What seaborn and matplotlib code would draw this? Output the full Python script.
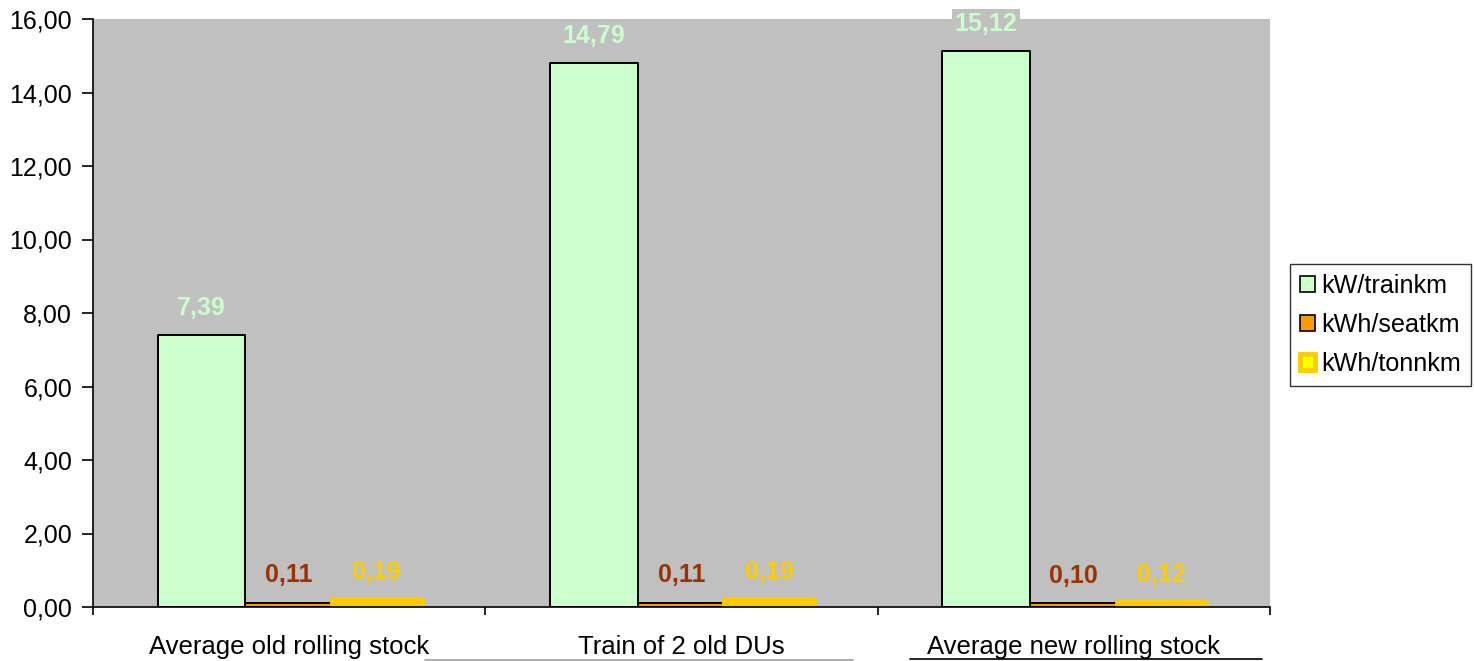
import matplotlib
matplotlib.use("Agg")
import matplotlib.pyplot as plt
from matplotlib.lines import Line2D
from matplotlib.ticker import FixedLocator, FuncFormatter
import seaborn as sns
import pandas as pd

categories = ["Average old rolling stock", "Train of 2 old DUs", "Average new rolling stock"]
series = ["kW/trainkm", "kWh/seatkm", "kWh/tonnkm"]
trainkm = [7.39, 14.79, 15.12]
seatkm = [0.11, 0.11, 0.10]
tonnkm = [0.19, 0.19, 0.12]

fills = ["#CCFFCC", "#FF9900", "#FFFF00"]
edges = ["#000000", "#000000", "#FFCC00"]
edge_widths = [1.4, 1.4, 5.0]
label_colors = ["#CCFFCC", "#993300", "#FFCC00"]

df = pd.DataFrame({
    "category": categories * 3,
    "series": [s for s in series for _ in categories],
    "value": trainkm + seatkm + tonnkm,
})

sns.set_theme(style="white")
plt.rcParams["font.family"] = ["Liberation Sans", "DejaVu Sans"]
plt.rcParams["text.color"] = "black"

fig = plt.figure(figsize=(14.74, 6.61), dpi=100)
ax = fig.add_axes([93 / 1474, 1 - 607 / 661, (1270 - 93) / 1474, (607 - 19) / 661])
ax.set_facecolor("#C0C0C0")

sns.barplot(data=df, x="category", y="value", hue="series", order=categories,
            hue_order=series, palette=fills, width=0.67, gap=0, ax=ax,
            errorbar=None, legend=False)

for cont, fc, ec, lw, lc in zip(ax.containers, fills, edges, edge_widths, label_colors):
    for bar in cont:
        bar.set_facecolor(fc)
        bar.set_edgecolor(ec)
        bar.set_linewidth(lw)
        bar.set_joinstyle("round")
        h = bar.get_height()
        ax.annotate(f"{h:.2f}".replace(".", ","),
                    (bar.get_x() + bar.get_width() / 2, h),
                    xytext=(0, 20), textcoords="offset points",
                    ha="center", va="center", fontsize=18, fontweight="bold",
                    color=lc, annotation_clip=False,
                    bbox=dict(boxstyle="square,pad=0.1", fc="#C0C0C0", ec="none"))

ax.set_xlim(-0.5, 2.5)
ax.set_ylim(0, 16)
ax.yaxis.set_major_locator(FixedLocator([0, 2, 4, 6, 8, 10, 12, 14, 16]))
ax.yaxis.set_major_formatter(FuncFormatter(lambda v, p: f"{v:.2f}".replace(".", ",")))
ax.xaxis.set_minor_locator(FixedLocator([-0.5, 0.5, 1.5, 2.5]))
ax.tick_params(axis="y", which="major", length=8, width=1.2, color="black",
               direction="out", left=True, labelsize=18, pad=7, labelcolor="black")
ax.tick_params(axis="x", which="major", length=0, pad=20, labelsize=18.5, labelcolor="black")
ax.tick_params(axis="x", which="minor", length=6, width=1.2, color="black",
               direction="out", bottom=True)
ax.set_xlabel("")
ax.set_ylabel("")

for side in ["top", "right"]:
    ax.spines[side].set_visible(False)
for side in ["left", "bottom"]:
    ax.spines[side].set_color("black")
    ax.spines[side].set_linewidth(1.2)

handles = [plt.Rectangle((0, 0), 1, 1, fc=fc, ec=ec, lw=(1.2 if lw < 2 else 3.5),
                         joinstyle="round")
           for fc, ec, lw in zip(fills, edges, edge_widths)]
leg = fig.legend(handles, series, loc="center left",
                 bbox_to_anchor=(1290 / 1474, 1 - 325 / 661),
                 fontsize=18.1, frameon=True, fancybox=False, shadow=False,
                 handlelength=0.6, handleheight=0.6, handletextpad=0.25,
                 labelspacing=0.6, borderpad=0.4, borderaxespad=0)
leg.get_frame().set_edgecolor("black")
leg.get_frame().set_linewidth(1.0)
leg.get_frame().set_facecolor("white")
for t in leg.get_texts():
    t.set_color("black")

# underline strokes along the bottom edge
fig.add_artist(Line2D([425 / 1474, 853 / 1474], [1 - 660 / 661] * 2,
                      color="#A0A0A0", lw=1.2))
fig.add_artist(Line2D([910 / 1474, 1262 / 1474], [1 - 659 / 661] * 2,
                      color="black", lw=1.2))

fig.savefig("out.png", dpi=100, facecolor="white")
